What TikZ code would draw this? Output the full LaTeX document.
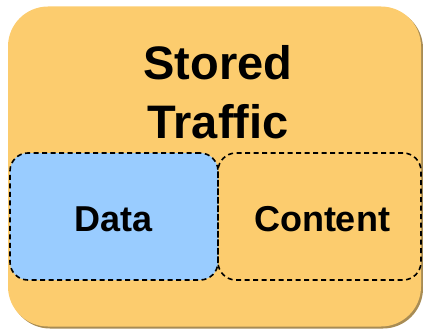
\documentclass[tikz,border=0pt]{standalone}
\usepackage{fontspec}
\setmainfont{Liberation Sans}
\usetikzlibrary{shadows}
\definecolor{orangefill}{RGB}{252,204,110}
\definecolor{bluefill}{RGB}{153,204,255}
\definecolor{shadowcol}{RGB}{168,140,84}
\tikzset{
  outerbox/.style={rectangle, rounded corners=40pt, fill=orangefill, draw=none, inner sep=0pt,
    drop shadow={shadow xshift=2pt, shadow yshift=-2pt, fill=shadowcol, opacity=1}},
  innerbox/.style={rectangle, rounded corners=18pt, draw=black, line width=1.6pt, dash pattern=on 5pt off 3.5pt, inner sep=0pt,
    minimum width=208pt, minimum height=127pt},
  titletext/.style={font=\fontsize{47}{56}\selectfont\bfseries, anchor=base, inner sep=0pt},
  labeltext/.style={font=\fontsize{36}{42}\selectfont\bfseries, anchor=base, inner sep=0pt}
}
\begin{document}
\begin{tikzpicture}[x=1pt,y=-1pt]
\useasboundingbox (0,0) rectangle (423,329);
\node[outerbox, minimum width=413pt, minimum height=320pt] (outer) at (214.5,166.5) {};
\node[innerbox, fill=bluefill] (data) at (114,216.5) {};
\node[innerbox, minimum width=203pt] (content) at (319.5,216.5) {};
\node[titletext] (stored) at (218,80) {Stored};
\node[titletext] (traffic) at (218,138) {Traffic};
\node[labeltext] (datal) at (114,231) {Data};
\node[labeltext] (contentl) at (322,231) {Content};
\end{tikzpicture}
\end{document}
